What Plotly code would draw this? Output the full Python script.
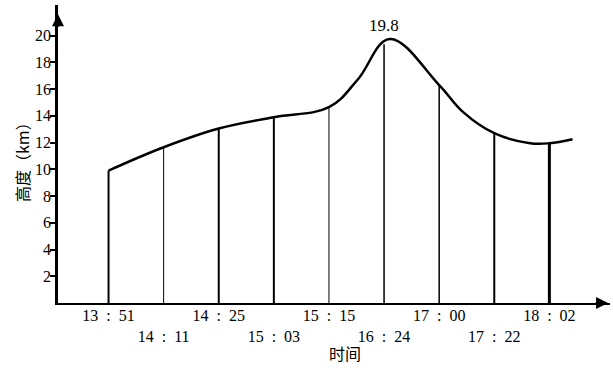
import plotly.graph_objects as go

# ---- data ----
time_labels = ["13 : 51", "14 : 11", "14 : 25", "15 : 03", "15 : 15",
               "16 : 24", "17 : 00", "17 : 22", "18 : 02"]
heights = [9.9, 11.65, 13.05, 13.9, 14.65, 19.35, 16.3, 12.7, 11.95]
line_widths = [2, 1, 2, 2, 1, 1.5, 1.5, 2, 3]

# smooth envelope curve (index positions along the time axis, height km)
curve_pos = [0, 1, 2, 3, 4, 4.52, 5.1, 6, 6.43, 7, 7.65, 8, 8.42]
curve_h = [9.9, 11.65, 13.05, 13.9, 14.65, 16.7, 19.75, 16.3, 14.3, 12.7, 11.95, 11.95, 12.25]

peak_label = "19.8"
y_ticks = [2, 4, 6, 8, 10, 12, 14, 16, 18, 20]

positions = list(range(len(time_labels)))
EN = "\u2002"
ticktext = []
for i, t in enumerate(time_labels):
    t2 = t.replace(" : ", EN + ":" + EN)
    ticktext.append(t2 if i % 2 == 0 else "<br>" + t2)

fig = go.Figure()

for p, h, w in zip(positions, heights, line_widths):
    fig.add_trace(go.Scatter(x=[p, p], y=[0, h], mode="lines",
                             line=dict(color="black", width=w),
                             hoverinfo="skip", showlegend=False))

fig.add_trace(go.Scatter(x=curve_pos, y=curve_h, mode="lines",
                         line=dict(color="black", width=2.5, shape="spline", smoothing=1.1),
                         showlegend=False))

serif = "Liberation Serif"
cjk = "Noto Sans CJK SC"

fig.update_layout(
    width=613, height=368,
    margin=dict(l=58, r=3, t=5, b=65),
    paper_bgcolor="white", plot_bgcolor="white",
    showlegend=False,
    xaxis=dict(range=[-0.917, 9.10], showgrid=False, zeroline=False,
               showline=True, linecolor="black", linewidth=2,
               tickmode="array", tickvals=positions, ticktext=ticktext,
               ticks="", ticklabelstandoff=-3,
               tickfont=dict(family=serif, size=16, color="black")),
    yaxis=dict(range=[0, 22.29], showgrid=False, zeroline=False,
               showline=True, linecolor="black", linewidth=2.5,
               tickmode="array", tickvals=y_ticks,
               ticks="outside", ticklen=5, tickwidth=1.5, tickcolor="black",
               ticklabelstandoff=-4,
               tickfont=dict(family=serif, size=16, color="black")),
)

# axis arrows
fig.add_annotation(x=0, xref="paper", y=21.6, yref="y", ax=0, ay=14, text="",
                   showarrow=True, arrowhead=2, arrowsize=1.2, arrowwidth=2, arrowcolor="black")
fig.add_annotation(x=9.065, xref="x", y=0, yref="paper", ax=-14, ay=0, text="",
                   showarrow=True, arrowhead=2, arrowsize=1.2, arrowwidth=2, arrowcolor="black")

# peak label
fig.add_annotation(x=5.0, y=19.75, yshift=13, text=peak_label, showarrow=False,
                   font=dict(family=serif, size=17, color="black"))

# axis titles
fig.add_annotation(x=0.52, xref="paper", y=-0.168, yref="paper", text="时间",
                   xanchor="center", yanchor="middle",
                   showarrow=False, font=dict(family=cjk, size=16, color="black"))
fig.add_annotation(x=-0.0652, xref="paper", y=0.4866, yref="paper", text="高度（km）",
                   xanchor="center", yanchor="middle",
                   textangle=-90, showarrow=False,
                   font=dict(family=cjk, size=16, color="black"))

fig.write_html("out.html", config={"displayModeBar": False},
               post_script="document.body.style.margin='0px';")
